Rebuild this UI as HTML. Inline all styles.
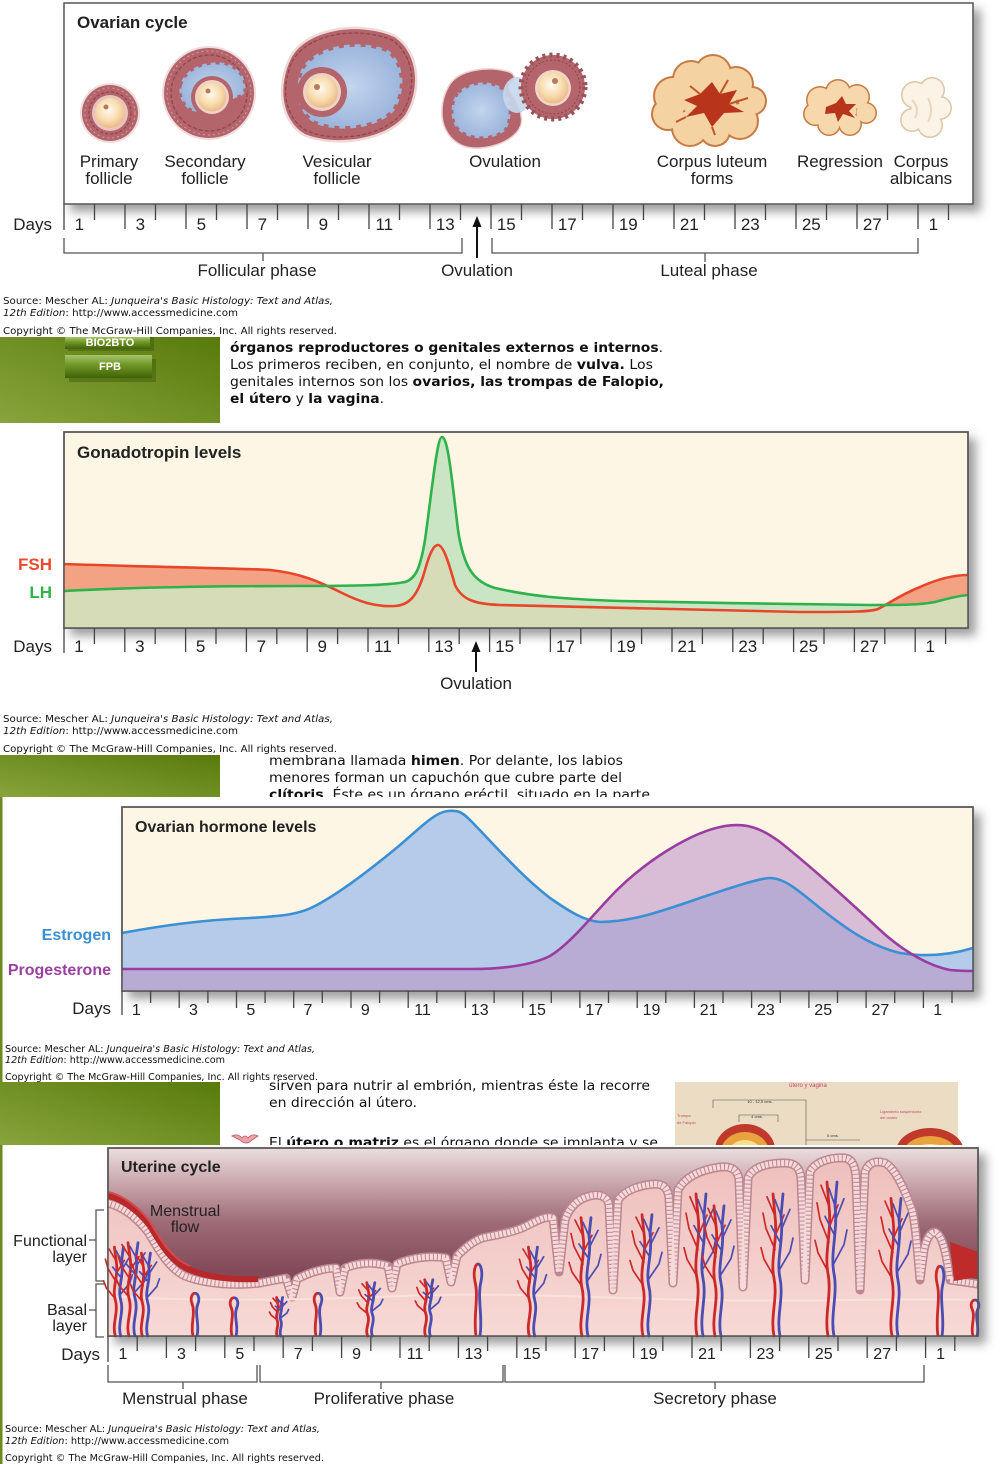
<!DOCTYPE html>
<html><head><meta charset="utf-8"><style>
html,body{margin:0;padding:0;background:#fff;}
svg{display:block;}
.l{font-family:"Liberation Sans",Arial,sans-serif;fill:#222;}
.v{font-family:"DejaVu Sans","Liberation Sans",sans-serif;fill:#111;}
</style></head><body>
<svg width="1000" height="1464" viewBox="0 0 1000 1464" xmlns="http://www.w3.org/2000/svg">
<defs>
<filter id="sh" x="-5%" y="-10%" width="115%" height="140%"><feDropShadow dx="7" dy="7" stdDeviation="5" flood-color="#000" flood-opacity="0.38"/></filter>
<linearGradient id="grn" x1="0" y1="1" x2="1" y2="0"><stop offset="0" stop-color="#88a43c"/><stop offset="1" stop-color="#587a0c"/></linearGradient>
<linearGradient id="btn" x1="0" y1="0" x2="0" y2="1"><stop offset="0" stop-color="#a6c46a"/><stop offset="0.45" stop-color="#6f9424"/><stop offset="1" stop-color="#3f6208"/></linearGradient>
<radialGradient id="ooc" cx="45%" cy="40%" r="60%"><stop offset="0" stop-color="#fffaf0"/><stop offset="0.6" stop-color="#f8dcae"/><stop offset="1" stop-color="#eab98a"/></radialGradient>
<radialGradient id="blu" cx="50%" cy="50%" r="60%"><stop offset="0" stop-color="#c3d5ee"/><stop offset="1" stop-color="#94afd8"/></radialGradient>
<linearGradient id="ub" x1="0" y1="0" x2="0" y2="1"><stop offset="0" stop-color="#ebdddd"/><stop offset="0.18" stop-color="#caa8ae"/><stop offset="0.4" stop-color="#9d6a75"/><stop offset="0.65" stop-color="#834a58"/><stop offset="1" stop-color="#7a4250"/></linearGradient>
<linearGradient id="tis" x1="0" y1="0" x2="0" y2="1"><stop offset="0" stop-color="#eebfbc"/><stop offset="1" stop-color="#f7d9d5"/></linearGradient>
<path id="lhp" d="M64,591 C120,588 200,586 300,586 C360,586 390,585 405,582 C415,579 420,570 425,540 C432,490 437,437 442,437 C448,437 452,480 458,530 C464,570 475,582 495,588 C530,596 560,599 620,601 C700,603 800,604 870,605 C900,605 920,605 935,602 C950,598 958,596 968,595"/>
<path id="fsp" d="M64,564 C150,567 230,568 270,570 C300,573 320,582 340,592 C360,602 375,607 395,606 C410,605 418,595 425,570 C430,552 434,545 438,545 C443,545 448,560 455,585 C462,600 475,604 500,605 C600,607 700,610 800,612 C850,612 870,612 878,609 C888,604 900,595 920,587 C940,578 955,575 968,575"/>
<clipPath id="lhc"><path d="M64,591 C120,588 200,586 300,586 C360,586 390,585 405,582 C415,579 420,570 425,540 C432,490 437,437 442,437 C448,437 452,480 458,530 C464,570 475,582 495,588 C530,596 560,599 620,601 C700,603 800,604 870,605 C900,605 920,605 935,602 C950,598 958,596 968,595 L968,628 L64,628 Z"/></clipPath>
<path id="esp" d="M122,933 C160,926 200,920 250,918 C285,916 300,914 315,906 C340,893 370,870 400,845 C420,828 435,812 448,811 C458,810 462,812 470,820 C490,840 520,875 550,898 C570,912 585,921 600,922 C630,922 660,912 700,898 C730,888 760,878 770,878 C785,878 800,892 820,908 C845,928 870,946 900,953 C925,957 950,955 973,948"/>
<path id="prp" d="M122,969 L470,969 C500,969 530,966 550,956 C570,944 590,918 615,892 C645,862 690,832 725,826 C745,823 760,827 780,842 C810,866 850,902 880,930 C905,953 930,966 950,970 C960,971 968,971 973,971"/>
<clipPath id="esc"><path d="M122,933 C160,926 200,920 250,918 C285,916 300,914 315,906 C340,893 370,870 400,845 C420,828 435,812 448,811 C458,810 462,812 470,820 C490,840 520,875 550,898 C570,912 585,921 600,922 C630,922 660,912 700,898 C730,888 760,878 770,878 C785,878 800,892 820,908 C845,928 870,946 900,953 C925,957 950,955 973,948 L973,991 L122,991 Z"/></clipPath>
<path id="edge" d="M108,1203 C120,1206 135,1215 148,1232 C158,1248 168,1268 185,1276 C205,1284 235,1286 260,1283 L286,1278 L292,1297 L297,1279 C310,1272 325,1268 336,1268 L340,1292 L345,1268 C360,1262 375,1262 388,1266 L392,1288 L397,1264 C410,1258 430,1255 446,1258 L451,1282 L457,1256 C465,1248 472,1242 482,1238 C495,1235 510,1233 522,1228 C535,1222 545,1215 553,1218 L559,1272 L565,1220 C570,1205 580,1197 595,1195 C603,1195 608,1198 609,1205 L613,1290 L618,1200 C625,1190 640,1185 655,1184 C665,1184 668,1190 669,1198 L673,1283 L678,1190 C685,1177 700,1170 720,1167 C732,1166 738,1170 739,1180 L743,1287 L748,1178 C752,1168 765,1163 785,1163 C795,1163 800,1168 801,1178 L805,1280 L810,1172 C815,1162 830,1157 845,1158 C852,1159 855,1165 856,1178 L860,1290 L865,1172 C868,1163 875,1160 885,1163 C895,1168 905,1190 912,1210 C916,1225 918,1260 920,1280 L924,1250 C926,1240 930,1232 935,1232 C942,1235 946,1250 950,1280 L978,1284"/>
<g id="vt" fill="none" stroke-linecap="round">
 <path stroke="#cc2a2a" stroke-width="2.8" vector-effect="non-scaling-stroke" d="M-3,0 C-7,-20 1,-40 -3,-60 C-7,-80 1,-100 -2,-125 L-4,-148"/>
 <path stroke="#cc2a2a" stroke-width="1.7" vector-effect="non-scaling-stroke" d="M-3,-62 L-13,-80 M-2,-90 L-11,-112 M-2,-104 L7,-126 M-2,-125 L-10,-145 M-13,-80 L-16,-92 M-11,-112 L-14,-128"/>
 <path stroke="#4b4db3" stroke-width="2.8" vector-effect="non-scaling-stroke" d="M3,0 C-1,-20 7,-40 3,-60 C-1,-80 7,-100 4,-125 L6,-148"/>
 <path stroke="#4b4db3" stroke-width="1.7" vector-effect="non-scaling-stroke" d="M3,-70 L13,-88 M4,-96 L-6,-115 M4,-110 L13,-132 M13,-88 L16,-102 M4,-125 L-2,-142"/>
</g>
<g id="vs" fill="none">
 <path stroke="#cc2a2a" stroke-width="2.8" vector-effect="non-scaling-stroke" d="M-2,0 C-5,-12 1,-24 -3,-34 C-5,-40 -3,-45 0,-45"/>
 <path stroke="#4b4db3" stroke-width="2.8" vector-effect="non-scaling-stroke" d="M2,0 C5,-12 -1,-24 3,-34 C5,-40 3,-45 0,-45"/>
</g>
</defs>

<rect width="1000" height="1464" fill="#fff"/>

<!-- ================= OVARIAN CYCLE ================= -->
<rect x="64" y="3" width="909" height="201" fill="#fff" stroke="#555" stroke-width="1.5" filter="url(#sh)"/>
<text class="l" x="77" y="28" font-size="17" font-weight="bold">Ovarian cycle</text>

<circle cx="110" cy="113" r="30" fill="#f1dcdc"/>
<circle cx="110" cy="113" r="28" fill="#b4646b"/>
<circle cx="110" cy="113" r="25" fill="none" stroke="#d39ca2" stroke-width="1" stroke-dasharray="2 3"/>
<circle cx="110" cy="113" r="21" fill="none" stroke="#8f434b" stroke-width="1.2" stroke-dasharray="3 2"/>
<circle cx="110" cy="113" r="18" fill="#e9c4bf"/>
<circle cx="110" cy="113" r="15" fill="url(#ooc)"/>
<circle cx="106" cy="107" r="2.5" fill="#b87a5a"/>

<circle cx="209" cy="93" r="47" fill="#f1dcdc"/>
<circle cx="209" cy="93" r="45" fill="#b4646b"/>
<circle cx="209" cy="93" r="42" fill="none" stroke="#d39ca2" stroke-width="1" stroke-dasharray="2 3"/>
<circle cx="209" cy="93" r="38" fill="none" stroke="#8f434b" stroke-width="1.2" stroke-dasharray="4 2"/>
<path d="M180,85 C185,68 205,60 225,63 C240,67 248,80 245,92 C240,100 235,95 230,102 C225,110 200,115 190,110 C182,105 178,95 180,85 Z" fill="url(#blu)" stroke="#b4646b" stroke-width="4" stroke-dasharray="4 5"/>
<circle cx="212" cy="97" r="21" fill="#b4646b"/>
<circle cx="212" cy="97" r="17" fill="#eed2c8"/>
<circle cx="212" cy="97" r="14.5" fill="url(#ooc)"/>
<circle cx="208" cy="91" r="2.5" fill="#b87a5a"/>

<path d="M290,58 C305,28 360,20 395,36 C420,53 422,90 406,116 C386,141 335,148 304,135 C279,120 277,84 290,58 Z" fill="#b4646b" stroke="#f0d8d8" stroke-width="2.5"/>
<path d="M292,62 C307,33 358,26 392,40 C415,56 417,89 402,113 C383,137 336,143 307,131 C283,117 281,86 292,62 Z" fill="none" stroke="#8f434b" stroke-width="1.2" stroke-dasharray="4 2"/>
<path d="M302,68 C316,45 358,38 388,50 C406,64 406,92 394,111 C377,129 340,133 316,124 C297,114 293,88 302,68 Z" fill="url(#blu)" stroke="#b4646b" stroke-width="5" stroke-dasharray="5 6"/>
<circle cx="322" cy="92" r="25" fill="#b4646b"/>
<circle cx="322" cy="92" r="19" fill="#eed2c8"/>
<circle cx="322" cy="92" r="16" fill="url(#ooc)"/>
<circle cx="317" cy="87" r="3" fill="#b87a5a"/>

<path d="M450,84 C460,70 486,66 506,71 C516,73 516,80 511,83 C503,90 521,100 521,116 C525,132 505,146 480,148 C455,150 441,131 442,111 C442,100 445,92 450,84 Z" fill="#b4646b" stroke="#ecd0d0" stroke-width="1.5"/>
<path d="M458,92 C470,81 490,79 502,88 C513,98 513,120 505,131 C490,142 465,141 455,126 C449,115 451,101 458,92 Z" fill="url(#blu)" stroke="#b4646b" stroke-width="4" stroke-dasharray="4 5"/>
<ellipse cx="517" cy="95" rx="14" ry="18" fill="#c7d8ee" opacity="0.9"/>
<circle cx="553" cy="87" r="32" fill="#b4646b" stroke="#9b5258" stroke-width="5" stroke-dasharray="3 4"/>
<circle cx="553" cy="87" r="27" fill="none" stroke="#8f434b" stroke-width="1" stroke-dasharray="2 2"/>
<circle cx="553" cy="88" r="18" fill="#f1d6cc"/>
<circle cx="553" cy="88" r="15.5" fill="url(#ooc)"/>
<circle cx="555" cy="81" r="3" fill="#b87a5a"/>

<g fill="#c87a44">
<circle cx="673" cy="96" r="20"/><circle cx="691" cy="79" r="19"/><circle cx="713" cy="73" r="19"/><circle cx="736" cy="84" r="18"/><circle cx="752" cy="101" r="15"/><circle cx="740" cy="121" r="19"/><circle cx="715" cy="131" r="16"/><circle cx="690" cy="128" r="19"/><circle cx="668" cy="114" r="17"/><circle cx="710" cy="103" r="28"/>
</g>
<g fill="#f5d2a2">
<circle cx="673" cy="96" r="18"/><circle cx="691" cy="79" r="17"/><circle cx="713" cy="73" r="17"/><circle cx="736" cy="84" r="16"/><circle cx="752" cy="101" r="13"/><circle cx="740" cy="121" r="17"/><circle cx="715" cy="131" r="14"/><circle cx="690" cy="128" r="17"/><circle cx="668" cy="114" r="15"/><circle cx="710" cy="103" r="26"/>
</g>
<path d="M684,100 L700,94 L712,82 L720,94 L737,90 L729,104 L744,112 L724,113 L712,127 L704,113 L686,117 L697,106Z" fill="#b8351c"/>
<path d="M700,94 L690,86 M720,94 L728,80 M729,104 L748,98 M712,127 L715,135 M686,117 L676,122" stroke="#c0552c" stroke-width="2" fill="none"/>

<g fill="#c87a44">
<circle cx="820" cy="100" r="14"/><circle cx="838" cy="92" r="13"/><circle cx="857" cy="97" r="13"/><circle cx="866" cy="113" r="11"/><circle cx="850" cy="124" r="12"/><circle cx="829" cy="124" r="12"/><circle cx="815" cy="114" r="12"/><circle cx="840" cy="109" r="18"/>
</g>
<g fill="#f6d8ac">
<circle cx="820" cy="100" r="12.5"/><circle cx="838" cy="92" r="11.5"/><circle cx="857" cy="97" r="11.5"/><circle cx="866" cy="113" r="9.5"/><circle cx="850" cy="124" r="10.5"/><circle cx="829" cy="124" r="10.5"/><circle cx="815" cy="114" r="10.5"/><circle cx="840" cy="109" r="16.5"/>
</g>
<path d="M826,107 L836,103 L842,96 L846,104 L856,104 L849,111 L855,118 L843,114 L838,122 L835,113 L825,114Z" fill="#b8351c"/>

<g fill="#dcc6a8">
<circle cx="915" cy="95" r="14"/><circle cx="932" cy="90" r="13"/><circle cx="940" cy="108" r="12"/><circle cx="930" cy="125" r="13"/><circle cx="912" cy="120" r="12"/><circle cx="924" cy="108" r="14"/>
</g>
<g fill="#fbf3e6">
<circle cx="915" cy="95" r="12.5"/><circle cx="932" cy="90" r="11.5"/><circle cx="940" cy="108" r="10.5"/><circle cx="930" cy="125" r="11.5"/><circle cx="912" cy="120" r="10.5"/><circle cx="924" cy="108" r="12.5"/>
</g>
<path d="M912,100 Q920,108 915,118 M928,98 Q934,110 928,122" stroke="#e9d8bd" stroke-width="2" fill="none"/>

<g class="l" font-size="17" text-anchor="middle">
<text x="109" y="167">Primary</text><text x="109" y="184">follicle</text>
<text x="205" y="167">Secondary</text><text x="205" y="184">follicle</text>
<text x="337" y="167">Vesicular</text><text x="337" y="184">follicle</text>
<text x="505" y="167">Ovulation</text>
<text x="712" y="167">Corpus luteum</text><text x="712" y="184">forms</text>
<text x="840" y="167">Regression</text>
<text x="921" y="167">Corpus</text><text x="921" y="184">albicans</text>
</g>

<path stroke="#444" stroke-width="1.3" fill="none" d="M64,204V230 M125,204V229 M186,204V229 M247,204V229 M308,204V229 M369,204V229 M430,204V229 M491,204V229 M552,204V229 M613,204V229 M674,204V229 M735,204V229 M796,204V229 M857,204V229 M918,204V229
M94.5,204V220 M155.5,204V220 M216.5,204V220 M277.5,204V220 M338.5,204V220 M399.5,204V220 M460.5,204V220 M521.5,204V220 M582.5,204V220 M643.5,204V220 M704.5,204V220 M765.5,204V220 M826.5,204V220 M887.5,204V220 M948.5,204V220"/>
<g class="l" font-size="17" text-anchor="middle">
<text x="79.3" y="230">1</text><text x="140.3" y="230">3</text><text x="201.3" y="230">5</text><text x="262.3" y="230">7</text><text x="323.3" y="230">9</text><text x="384.3" y="230">11</text><text x="445.3" y="230">13</text><text x="506.3" y="230">15</text><text x="567.3" y="230">17</text><text x="628.3" y="230">19</text><text x="689.3" y="230">21</text><text x="750.3" y="230">23</text><text x="811.3" y="230">25</text><text x="872.3" y="230">27</text><text x="933.3" y="230">1</text>
</g>
<text class="l" x="52" y="230" font-size="17" text-anchor="end">Days</text>
<path stroke="#555" stroke-width="1.3" fill="none" d="M64,238V253H462V238 M263,253V261 M492,238V253H918V238 M705,253V262"/>
<line x1="477" y1="258" x2="477" y2="224" stroke="#111" stroke-width="2"/>
<polygon points="477,216 472.5,227 481.5,227" fill="#111"/>
<g class="l" font-size="17" text-anchor="middle">
<text x="257" y="276">Follicular phase</text><text x="477" y="276">Ovulation</text><text x="709" y="276">Luteal phase</text>
</g>

<g class="v" font-size="10" fill="#111">
<text x="3" y="304" textLength="330" lengthAdjust="spacingAndGlyphs">Source: Mescher AL: <tspan font-style="italic">Junqueira's Basic Histology: Text and Atlas,</tspan></text>
<text x="3" y="316" textLength="235" lengthAdjust="spacingAndGlyphs"><tspan font-style="italic">12th Edition</tspan>: http://www.accessmedicine.com</text>
<text x="3" y="334" textLength="334" lengthAdjust="spacingAndGlyphs">Copyright © The McGraw-Hill Companies, Inc. All rights reserved.</text>
</g>

<rect x="0" y="337" width="220" height="86" fill="url(#grn)"/>
<rect x="68" y="337" width="86" height="14" fill="#2e4a05" opacity="0.35"/>
<rect x="65" y="337" width="85" height="12" fill="url(#btn)"/>
<text x="110" y="346" font-family="Liberation Sans,sans-serif" font-size="11" font-weight="bold" fill="#fff" text-anchor="middle">BIO2BTO</text>
<rect x="69" y="359" width="87" height="23" fill="#2e4a05" opacity="0.35"/>
<rect x="65" y="355" width="87" height="23" fill="url(#btn)"/>
<text x="110" y="370" font-family="Liberation Sans,sans-serif" font-size="11" font-weight="bold" fill="#fff" text-anchor="middle">FPB</text>

<g class="v" font-size="13">
<text x="230" y="352" textLength="433" lengthAdjust="spacingAndGlyphs"><tspan font-weight="bold">órganos reproductores o genitales externos e internos</tspan>.</text>
<text x="230" y="369" textLength="423" lengthAdjust="spacingAndGlyphs">Los primeros reciben, en conjunto, el nombre de <tspan font-weight="bold">vulva.</tspan> Los</text>
<text x="230" y="386" textLength="434" lengthAdjust="spacingAndGlyphs">genitales internos son los <tspan font-weight="bold">ovarios, las trompas de Falopio,</tspan></text>
<text x="230" y="403" textLength="154" lengthAdjust="spacingAndGlyphs"><tspan font-weight="bold">el útero</tspan> y <tspan font-weight="bold">la vagina</tspan>.</text>
</g>

<!-- ================= GONADOTROPIN ================= -->
<rect x="64" y="432" width="904" height="196" fill="#fdf6e5" stroke="#555" stroke-width="1.5" filter="url(#sh)"/>
<path d="M64,591 C120,588 200,586 300,586 C360,586 390,585 405,582 C415,579 420,570 425,540 C432,490 437,437 442,437 C448,437 452,480 458,530 C464,570 475,582 495,588 C530,596 560,599 620,601 C700,603 800,604 870,605 C900,605 920,605 935,602 C950,598 958,596 968,595 L968,628 L64,628 Z" fill="#c9e5c3"/>
<path d="M64,564 C150,567 230,568 270,570 C300,573 320,582 340,592 C360,602 375,607 395,606 C410,605 418,595 425,570 C430,552 434,545 438,545 C443,545 448,560 455,585 C462,600 475,604 500,605 C600,607 700,610 800,612 C850,612 870,612 878,609 C888,604 900,595 920,587 C940,578 955,575 968,575 L968,628 L64,628 Z" fill="#f3a384"/>
<path clip-path="url(#lhc)" d="M64,564 C150,567 230,568 270,570 C300,573 320,582 340,592 C360,602 375,607 395,606 C410,605 418,595 425,570 C430,552 434,545 438,545 C443,545 448,560 455,585 C462,600 475,604 500,605 C600,607 700,610 800,612 C850,612 870,612 878,609 C888,604 900,595 920,587 C940,578 955,575 968,575 L968,628 L64,628 Z" fill="#d6dbb8"/>
<use href="#fsp" fill="none" stroke="#e9452b" stroke-width="2.6"/>
<use href="#lhp" fill="none" stroke="#2fb24c" stroke-width="2.6"/>
<rect x="64" y="432" width="904" height="196" fill="none" stroke="#555" stroke-width="1.5"/>
<text class="l" x="77" y="458" font-size="17" font-weight="bold">Gonadotropin levels</text>
<text x="52" y="570" font-family="Liberation Sans,sans-serif" font-size="17" font-weight="bold" fill="#ec4a2c" text-anchor="end">FSH</text>
<text x="52" y="598" font-family="Liberation Sans,sans-serif" font-size="17" font-weight="bold" fill="#2fb24c" text-anchor="end">LH</text>

<path stroke="#444" stroke-width="1.3" fill="none" d="M64,628V653 M124.8,628V652 M185.6,628V652 M246.4,628V652 M307.2,628V652 M368,628V652 M428.8,628V652 M489.6,628V652 M550.4,628V652 M611.2,628V652 M672,628V652 M732.8,628V652 M793.6,628V652 M854.4,628V652 M915.2,628V652
M94.4,628V644 M155.2,628V644 M216,628V644 M276.8,628V644 M337.6,628V644 M398.4,628V644 M459.2,628V644 M520,628V644 M580.8,628V644 M641.6,628V644 M702.4,628V644 M763.2,628V644 M824,628V644 M884.8,628V644 M945.6,628V644"/>
<g class="l" font-size="17" text-anchor="middle">
<text x="79" y="652">1</text><text x="139.8" y="652">3</text><text x="200.6" y="652">5</text><text x="261.4" y="652">7</text><text x="322.2" y="652">9</text><text x="383" y="652">11</text><text x="443.8" y="652">13</text><text x="504.6" y="652">15</text><text x="565.4" y="652">17</text><text x="626.2" y="652">19</text><text x="687" y="652">21</text><text x="747.8" y="652">23</text><text x="808.6" y="652">25</text><text x="869.4" y="652">27</text><text x="930.2" y="652">1</text>
</g>
<text class="l" x="52" y="652" font-size="17" text-anchor="end">Days</text>
<line x1="476" y1="672" x2="476" y2="649" stroke="#111" stroke-width="2"/>
<polygon points="476,641 471.5,652 480.5,652" fill="#111"/>
<text class="l" x="476" y="689" font-size="17" text-anchor="middle">Ovulation</text>

<g class="v" font-size="10" fill="#111">
<text x="3" y="722" textLength="330" lengthAdjust="spacingAndGlyphs">Source: Mescher AL: <tspan font-style="italic">Junqueira's Basic Histology: Text and Atlas,</tspan></text>
<text x="3" y="734" textLength="235" lengthAdjust="spacingAndGlyphs"><tspan font-style="italic">12th Edition</tspan>: http://www.accessmedicine.com</text>
<text x="3" y="752" textLength="334" lengthAdjust="spacingAndGlyphs">Copyright © The McGraw-Hill Companies, Inc. All rights reserved.</text>
</g>

<rect x="0" y="755" width="220" height="42" fill="url(#grn)"/>
<g class="v" font-size="13">
<text x="269" y="765" textLength="354" lengthAdjust="spacingAndGlyphs">membrana llamada <tspan font-weight="bold">himen</tspan>. Por delante, los labios</text>
<text x="269" y="782" textLength="353" lengthAdjust="spacingAndGlyphs">menores forman un capuchón que cubre parte del</text>
<text x="269" y="799" textLength="381" lengthAdjust="spacingAndGlyphs"><tspan font-weight="bold">clítoris</tspan>. Éste es un órgano eréctil, situado en la parte</text>
</g>

<rect x="0" y="797" width="1000" height="283" fill="#fff"/>
<rect x="0" y="797" width="2.5" height="667" fill="#6b8a1f"/>

<!-- ================= OVARIAN HORMONE ================= -->
<rect x="122" y="807" width="851" height="184" fill="#fdf6e5" stroke="#555" stroke-width="1.5" filter="url(#sh)"/>
<path d="M122,933 C160,926 200,920 250,918 C285,916 300,914 315,906 C340,893 370,870 400,845 C420,828 435,812 448,811 C458,810 462,812 470,820 C490,840 520,875 550,898 C570,912 585,921 600,922 C630,922 660,912 700,898 C730,888 760,878 770,878 C785,878 800,892 820,908 C845,928 870,946 900,953 C925,957 950,955 973,948 L973,991 L122,991 Z" fill="#b6cbe9"/>
<path d="M122,969 L470,969 C500,969 530,966 550,956 C570,944 590,918 615,892 C645,862 690,832 725,826 C745,823 760,827 780,842 C810,866 850,902 880,930 C905,953 930,966 950,970 C960,971 968,971 973,971 L973,991 L122,991 Z" fill="#d9bdd7"/>
<path clip-path="url(#esc)" d="M122,969 L470,969 C500,969 530,966 550,956 C570,944 590,918 615,892 C645,862 690,832 725,826 C745,823 760,827 780,842 C810,866 850,902 880,930 C905,953 930,966 950,970 C960,971 968,971 973,971 L973,991 L122,991 Z" fill="#b8acd4"/>
<use href="#esp" fill="none" stroke="#3a90d3" stroke-width="2.6"/>
<use href="#prp" fill="none" stroke="#9a3ca0" stroke-width="2.6"/>
<rect x="122" y="807" width="851" height="184" fill="none" stroke="#555" stroke-width="1.5"/>
<text class="l" x="135" y="832" font-size="16" font-weight="bold">Ovarian hormone levels</text>
<text x="111" y="940" font-family="Liberation Sans,sans-serif" font-size="16" font-weight="bold" fill="#3b8fd4" text-anchor="end">Estrogen</text>
<text x="111" y="975" font-family="Liberation Sans,sans-serif" font-size="16" font-weight="bold" fill="#9b3fa0" text-anchor="end">Progesterone</text>

<path stroke="#444" stroke-width="1.3" fill="none" d="M122,991V1015 M179.2,991V1008 M236.5,991V1008 M293.7,991V1008 M351,991V1008 M408.2,991V1008 M465.4,991V1008 M522.7,991V1008 M579.9,991V1008 M637.2,991V1008 M694.4,991V1008 M751.6,991V1008 M808.9,991V1008 M866.1,991V1008 M923.4,991V1008
M150.6,991V1003 M207.9,991V1003 M265.1,991V1003 M322.3,991V1003 M379.6,991V1003 M436.8,991V1003 M494.1,991V1003 M551.3,991V1003 M608.5,991V1003 M665.8,991V1003 M723,991V1003 M780.3,991V1003 M837.5,991V1003 M894.7,991V1003 M952,991V1003"/>
<g class="l" font-size="16" text-anchor="middle">
<text x="136.3" y="1015">1</text><text x="193.5" y="1015">3</text><text x="250.8" y="1015">5</text><text x="308" y="1015">7</text><text x="365.3" y="1015">9</text><text x="422.5" y="1015">11</text><text x="479.7" y="1015">13</text><text x="537" y="1015">15</text><text x="594.2" y="1015">17</text><text x="651.5" y="1015">19</text><text x="708.7" y="1015">21</text><text x="765.9" y="1015">23</text><text x="823.2" y="1015">25</text><text x="880.4" y="1015">27</text><text x="937.7" y="1015">1</text>
</g>
<text class="l" x="111" y="1014" font-size="17" text-anchor="end">Days</text>

<g class="v" font-size="10" fill="#111">
<text x="5" y="1052" textLength="310" lengthAdjust="spacingAndGlyphs">Source: Mescher AL: <tspan font-style="italic">Junqueira's Basic Histology: Text and Atlas,</tspan></text>
<text x="5" y="1063" textLength="220" lengthAdjust="spacingAndGlyphs"><tspan font-style="italic">12th Edition</tspan>: http://www.accessmedicine.com</text>
<text x="5" y="1080" textLength="313" lengthAdjust="spacingAndGlyphs">Copyright © The McGraw-Hill Companies, Inc. All rights reserved.</text>
</g>

<rect x="0" y="1082" width="220" height="63" fill="url(#grn)"/>
<g class="v" font-size="13">
<text x="269" y="1090" textLength="381" lengthAdjust="spacingAndGlyphs">sirven para nutrir al embrión, mientras éste la recorre</text>
<text x="269" y="1107" textLength="148" lengthAdjust="spacingAndGlyphs">en dirección al útero.</text>
<text x="269" y="1147" textLength="389" lengthAdjust="spacingAndGlyphs">El <tspan font-weight="bold">útero o matriz</tspan> es el órgano donde se implanta y se</text>
</g>
<path d="M232,1136 Q238,1133 242,1138 Q245,1134 248,1138 Q252,1133 258,1136 L252,1140 Q246,1146 240,1140 Z" fill="#e7a4a8" stroke="#c0505a" stroke-width="0.8"/>
<rect x="675" y="1082" width="283" height="63" fill="#ebdcc3"/>
<text x="808" y="1087" font-family="Liberation Sans,sans-serif" font-size="6" fill="#c04a6a" text-anchor="middle">útero y vagina</text>
<text x="760" y="1103" font-family="Liberation Sans,sans-serif" font-size="4" fill="#333" text-anchor="middle">10 - 12,5 cms.</text>
<text x="757" y="1118" font-family="Liberation Sans,sans-serif" font-size="4" fill="#333" text-anchor="middle">4 cms.</text>
<text x="833" y="1137" font-family="Liberation Sans,sans-serif" font-size="4" fill="#333" text-anchor="middle">5 cms.</text>
<text x="677" y="1117" font-family="Liberation Sans,sans-serif" font-size="4" fill="#c04a6a">Trompa</text>
<text x="677" y="1124" font-family="Liberation Sans,sans-serif" font-size="4" fill="#c04a6a">de Falopio</text>
<text x="880" y="1113" font-family="Liberation Sans,sans-serif" font-size="4" fill="#c04a6a">Ligamento suspensorio</text>
<text x="880" y="1119" font-family="Liberation Sans,sans-serif" font-size="4" fill="#c04a6a">del ovario</text>
<path d="M713,1108V1100H806V1108 M739,1122V1115H778V1122 M806,1140H860 M806,1108V1145" stroke="#555" stroke-width="0.6" fill="none"/>
<ellipse cx="745" cy="1150" rx="30" ry="26" fill="#c0392b"/>
<ellipse cx="745" cy="1152" rx="24" ry="20" fill="#e8a33d"/>
<ellipse cx="745" cy="1154" rx="17" ry="14" fill="#f6e08a"/>
<ellipse cx="930" cy="1152" rx="34" ry="24" fill="#c0392b"/>
<ellipse cx="930" cy="1154" rx="27" ry="18" fill="#e8a33d"/>
<ellipse cx="930" cy="1156" rx="20" ry="12" fill="#f6e08a"/>

<rect x="2.5" y="1145" width="997.5" height="319" fill="#fff"/>

<!-- ================= UTERINE CYCLE ================= -->
<rect x="108" y="1148" width="870" height="188" fill="url(#ub)" stroke="#555" stroke-width="1.5" filter="url(#sh)"/>
<path d="M108,1203 C120,1206 135,1215 148,1232 C158,1248 168,1268 185,1276 C205,1284 235,1286 260,1283 L286,1278 L292,1297 L297,1279 C310,1272 325,1268 336,1268 L340,1292 L345,1268 C360,1262 375,1262 388,1266 L392,1288 L397,1264 C410,1258 430,1255 446,1258 L451,1282 L457,1256 C465,1248 472,1242 482,1238 C495,1235 510,1233 522,1228 C535,1222 545,1215 553,1218 L559,1272 L565,1220 C570,1205 580,1197 595,1195 C603,1195 608,1198 609,1205 L613,1290 L618,1200 C625,1190 640,1185 655,1184 C665,1184 668,1190 669,1198 L673,1283 L678,1190 C685,1177 700,1170 720,1167 C732,1166 738,1170 739,1180 L743,1287 L748,1178 C752,1168 765,1163 785,1163 C795,1163 800,1168 801,1178 L805,1280 L810,1172 C815,1162 830,1157 845,1158 C852,1159 855,1165 856,1178 L860,1290 L865,1172 C868,1163 875,1160 885,1163 C895,1168 905,1190 912,1210 C916,1225 918,1260 920,1280 L924,1250 C926,1240 930,1232 935,1232 C942,1235 946,1250 950,1280 L978,1284 L978,1336 L108,1336 Z" fill="url(#tis)"/>
<use href="#edge" fill="none" stroke="#bd8791" stroke-width="9" stroke-linejoin="round"/>
<use href="#edge" fill="none" stroke="#f6d9d9" stroke-width="6" stroke-linejoin="round" stroke-dasharray="3 1"/>
<path d="M110,1296 C200,1302 300,1300 400,1296 C500,1292 600,1298 700,1300 C800,1302 900,1298 976,1300" stroke="#f9e2de" stroke-width="2" fill="none"/>
<path d="M108,1196 C122,1199 138,1210 150,1226 C160,1242 170,1262 190,1270 C210,1278 235,1280 258,1279" stroke="#b8282a" stroke-width="6" fill="none"/>
<path d="M108,1192 C122,1195 138,1206 150,1222 C160,1238 170,1258 190,1266" stroke="#d9484a" stroke-width="2" fill="none"/>
<path d="M950,1242 L978,1252 L978,1277 L954,1281 Z" fill="#bf2a2a"/>
<use href="#vt" transform="translate(118,1336) scale(0.9,0.6)"/>
<use href="#vt" transform="translate(132,1336) scale(1,0.63)"/>
<use href="#vt" transform="translate(145,1336) scale(0.9,0.56)"/>
<use href="#vs" transform="translate(195,1336) scale(1,0.95)"/>
<use href="#vs" transform="translate(234,1336) scale(1,0.85)"/>
<use href="#vt" transform="translate(279,1336) scale(0.6,0.26)"/>
<use href="#vs" transform="translate(318,1336) scale(1,0.95)"/>
<use href="#vt" transform="translate(370,1336) scale(0.8,0.36)"/>
<use href="#vt" transform="translate(428,1336) scale(0.8,0.38)"/>
<use href="#vs" transform="translate(478,1336) scale(1,1.6)"/>
<use href="#vt" transform="translate(532,1336) scale(0.9,0.6)"/>
<use href="#vt" transform="translate(585,1336) scale(1,0.8)"/>
<use href="#vt" transform="translate(646,1336) scale(1,0.82)"/>
<use href="#vt" transform="translate(700,1336) scale(1,0.96)"/>
<use href="#vt" transform="translate(718,1336) scale(1,0.88)"/>
<use href="#vt" transform="translate(777,1336) scale(1,0.96)"/>
<use href="#vt" transform="translate(831,1336) scale(1,1.04)"/>
<use href="#vt" transform="translate(895,1336) scale(1,0.93)"/>
<use href="#vs" transform="translate(940,1336) scale(1,1.55)"/>
<use href="#vs" transform="translate(975,1336) scale(1,0.8)"/>
<rect x="108" y="1148" width="870" height="188" fill="none" stroke="#555" stroke-width="1.5"/>
<text class="l" x="121" y="1172" font-size="16" font-weight="bold" fill="#111">Uterine cycle</text>
<text class="l" x="185" y="1216" font-size="16" text-anchor="middle" fill="#1a1a1a">Menstrual</text>
<text class="l" x="185" y="1232" font-size="16" text-anchor="middle" fill="#1a1a1a">flow</text>

<path stroke="#555" stroke-width="1.3" fill="none" d="M104,1210H96V1281H104 M96,1240H89 M104,1284H96V1337H104 M96,1310H89"/>
<g class="l" font-size="16" text-anchor="end">
<text x="87" y="1246">Functional</text><text x="87" y="1262">layer</text>
<text x="87" y="1315">Basal</text><text x="87" y="1331">layer</text>
</g>

<path stroke="#444" stroke-width="1.3" fill="none" d="M108,1336V1362 M166.4,1336V1358 M224.8,1336V1358 M283.2,1336V1358 M341.6,1336V1358 M400,1336V1358 M458.4,1336V1358 M516.8,1336V1358 M575.2,1336V1358 M633.6,1336V1358 M692,1336V1358 M750.4,1336V1358 M808.8,1336V1358 M867.2,1336V1358 M925.6,1336V1358
M137.2,1336V1351 M195.6,1336V1351 M254,1336V1351 M312.4,1336V1351 M370.8,1336V1351 M429.2,1336V1351 M487.6,1336V1351 M546,1336V1351 M604.4,1336V1351 M662.8,1336V1351 M721.2,1336V1351 M779.6,1336V1351 M838,1336V1351 M896.4,1336V1351 M954.8,1336V1351"/>
<g class="l" font-size="16" text-anchor="middle">
<text x="123" y="1359">1</text><text x="181.4" y="1359">3</text><text x="239.8" y="1359">5</text><text x="298.2" y="1359">7</text><text x="356.6" y="1359">9</text><text x="415" y="1359">11</text><text x="473.4" y="1359">13</text><text x="531.8" y="1359">15</text><text x="590.2" y="1359">17</text><text x="648.6" y="1359">19</text><text x="707" y="1359">21</text><text x="765.4" y="1359">23</text><text x="823.8" y="1359">25</text><text x="882.2" y="1359">27</text><text x="940.6" y="1359">1</text>
</g>
<text class="l" x="100" y="1360" font-size="17" text-anchor="end">Days</text>
<path stroke="#555" stroke-width="1.3" fill="none" d="M108,1365V1382H257V1365 M183,1382V1389 M260,1365V1382H503V1365 M381,1382V1389 M505,1365V1382H924V1365 M715,1382V1389"/>
<g class="l" font-size="17" text-anchor="middle">
<text x="185" y="1404">Menstrual phase</text><text x="384" y="1404">Proliferative phase</text><text x="715" y="1404">Secretory phase</text>
</g>

<g class="v" font-size="10" fill="#111">
<text x="5" y="1432" textLength="315" lengthAdjust="spacingAndGlyphs">Source: Mescher AL: <tspan font-style="italic">Junqueira's Basic Histology: Text and Atlas,</tspan></text>
<text x="5" y="1444" textLength="224" lengthAdjust="spacingAndGlyphs"><tspan font-style="italic">12th Edition</tspan>: http://www.accessmedicine.com</text>
<text x="5" y="1461" textLength="319" lengthAdjust="spacingAndGlyphs">Copyright © The McGraw-Hill Companies, Inc. All rights reserved.</text>
</g>
</svg>
</body></html>
